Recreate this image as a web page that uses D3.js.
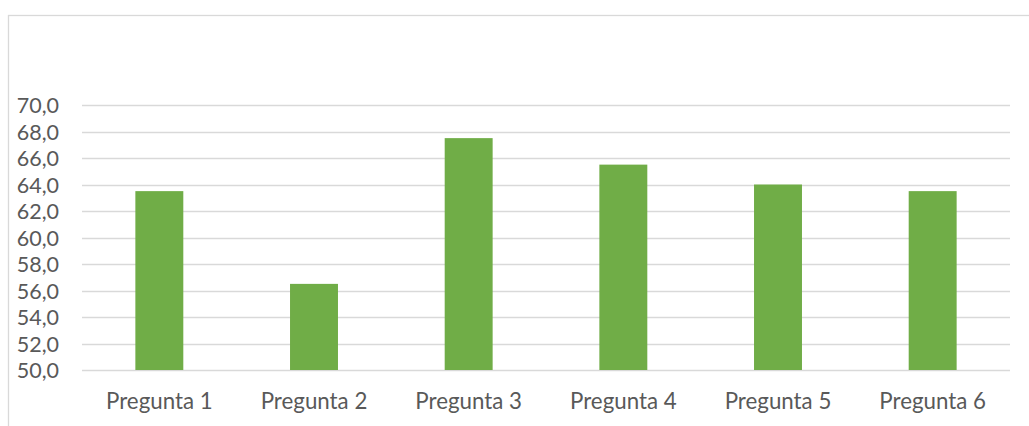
<!DOCTYPE html>
<html>
<head>
<meta charset="utf-8">
<script src="https://cdn.jsdelivr.net/npm/d3@7"></script>
<style>
  html, body { margin: 0; padding: 0; background: #fff; }
  svg { display: block; }
  .tick text { font-family: Lato, "Open Sans", sans-serif; fill: #595959; }
</style>
</head>
<body>
<svg id="chart" width="1029" height="426"></svg>
<script>
// Chart data
const categories = ["Pregunta 1", "Pregunta 2", "Pregunta 3", "Pregunta 4", "Pregunta 5", "Pregunta 6"];
const values = [63.5, 56.5, 67.5, 65.5, 64.0, 63.5];
const yTicks = [50, 52, 54, 56, 58, 60, 62, 64, 66, 68, 70];

const width = 1029, height = 426;
const margin = { top: 105, right: 19, bottom: 56, left: 82 };
const svg = d3.select("#chart");

// Outer chart frame (extends beyond the visible area on right and bottom)
svg.append("rect")
  .attr("x", 8.5).attr("y", 15.5)
  .attr("width", 1040).attr("height", 440)
  .attr("fill", "none").attr("stroke", "#D9D9D9").attr("stroke-width", 1.3);

const x = d3.scaleBand()
  .domain(categories)
  .range([margin.left, width - margin.right])
  .paddingInner(0.69).paddingOuter(0.345);

const y = d3.scaleLinear()
  .domain([50, 70])
  .range([height - margin.bottom, margin.top]);

const fmt = d => d.toFixed(1).replace(".", ",");

// Gridlines
svg.append("g")
  .selectAll("line")
  .data(yTicks)
  .join("line")
  .attr("x1", margin.left).attr("x2", width - margin.right)
  .attr("y1", d => Math.round(y(d)) + 0.5).attr("y2", d => Math.round(y(d)) + 0.5)
  .attr("stroke", "#D9D9D9").attr("stroke-width", 1.4);

// Y axis labels
const yAxis = svg.append("g")
  .attr("transform", `translate(${margin.left - 23},0)`)
  .call(d3.axisLeft(y).tickValues(yTicks).tickFormat(fmt).tickSize(0).tickPadding(0));
yAxis.select(".domain").remove();
yAxis.selectAll("text").attr("font-size", 21.5).attr("dy", "0.35em");

// Bars
svg.append("g")
  .selectAll("rect")
  .data(values)
  .join("rect")
  .attr("x", (d, i) => x(categories[i]))
  .attr("width", x.bandwidth())
  .attr("y", d => y(d))
  .attr("height", d => y(50) - y(d))
  .attr("fill", "#70AD47");

// X axis labels
const xAxis = svg.append("g")
  .attr("transform", `translate(0,${height - margin.bottom})`)
  .call(d3.axisBottom(x).tickSize(0).tickPadding(0));
xAxis.select(".domain").remove();
xAxis.selectAll("text").attr("font-size", 22.3).attr("y", 39).attr("dy", 0);
</script>
</body>
</html>
